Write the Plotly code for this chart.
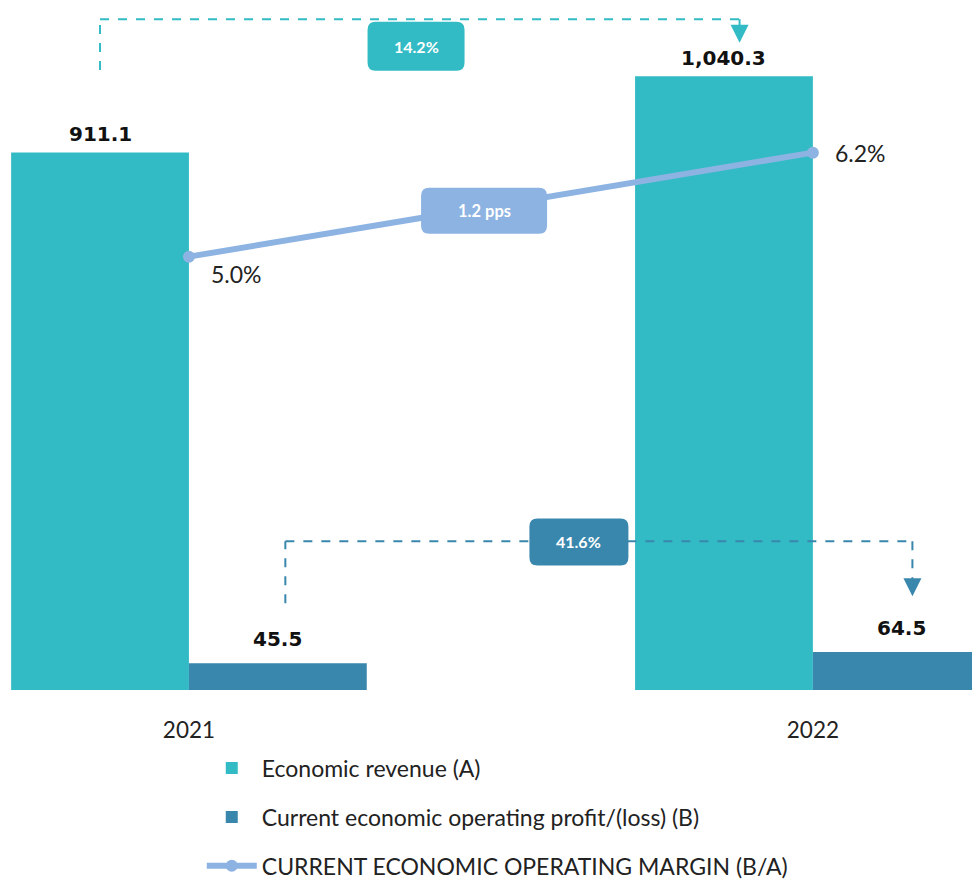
import plotly.graph_objects as go

# Data
years = ["2021", "2022"]
revenue = [911.1, 1040.3]
profit = [45.5, 64.5]
margin = [5.0, 6.2]
revenue_growth = "14.2%"
profit_growth = "41.6%"
margin_change = "1.2 pps"

teal = "#33BBC5"
blue = "#3A87AD"
light = "#8DB3E2"
font = "Lato"
value_font = "DejaVu Sans"

fig = go.Figure()
fig.add_trace(go.Bar(x=years, y=revenue, name="Economic revenue (A)",
                     marker=dict(color=teal, line=dict(width=0)),
                     legendgroup="a"))
fig.add_trace(go.Bar(x=years, y=profit, name="Current economic operating profit/(loss) (B)",
                     marker=dict(color=blue, line=dict(width=0)),
                     legendgroup="b"))
fig.add_trace(go.Scatter(x=years, y=margin, yaxis="y2", mode="lines+markers",
                         name="CURRENT ECONOMIC OPERATING MARGIN (B/A)",
                         line=dict(color=light, width=6),
                         marker=dict(size=12, color=light),
                         legendgroup="c"))

# bar value labels
off = 0.1425  # half of a bar, in category units
for i, v in enumerate(revenue):
    fig.add_annotation(x=i - off, y=v, text=f"<b>{v:,.1f}</b>", showarrow=False,
                       yanchor="bottom", yshift=4,
                       font=dict(family=value_font, size=20, color="#111"))
for i, v in enumerate(profit):
    fig.add_annotation(x=i + off, y=v, text=f"<b>{v:,.1f}</b>", showarrow=False,
                       yanchor="bottom", yshift=10,
                       font=dict(family=value_font, size=20, color="#111"))

# margin labels
fig.add_annotation(x=0, y=margin[0], yref="y2", text=f"{margin[0]:.1f}%", showarrow=False,
                   xanchor="left", yanchor="top", xshift=20, yshift=-1,
                   font=dict(size=23, color="#222"))
fig.add_annotation(x=1, y=margin[1], yref="y2", text=f"{margin[1]:.1f}%", showarrow=False,
                   xanchor="left", xshift=20, font=dict(size=23, color="#222"))


def rounded_box(xc, yc, w, h, color, yref="y", r=8):
    hw, hh = w / 2, h / 2
    path = (f"M {-hw + r},{-hh} L {hw - r},{-hh} Q {hw},{-hh} {hw},{-hh + r} "
            f"L {hw},{hh - r} Q {hw},{hh} {hw - r},{hh} L {-hw + r},{hh} "
            f"Q {-hw},{hh} {-hw},{hh - r} L {-hw},{-hh + r} Q {-hw},{-hh} {-hw + r},{-hh} Z")
    fig.add_shape(type="path", path=path, xref="x", yref=yref,
                  xsizemode="pixel", ysizemode="pixel", xanchor=xc, yanchor=yc,
                  fillcolor=color, line=dict(width=0), layer="above")


def bracket(x0, x1, ytop, yleft, ytip, color):
    dash = dict(color=color, width=2, dash="dash")
    fig.add_shape(type="line", x0=x0, x1=x0, y0=yleft, y1=ytop, xref="x", yref="y", line=dash)
    fig.add_shape(type="line", x0=x0, x1=x1, y0=ytop, y1=ytop, xref="x", yref="y", line=dash)
    fig.add_shape(type="line", x0=x1, x1=x1, y0=ytop, y1=ytip + 24, xref="x", yref="y", line=dash)
    fig.add_annotation(x=x1, y=ytip, ax=x1, ay=ytip + 26, axref="x", ayref="y",
                       text="", showarrow=True, arrowhead=2, arrowsize=1.8,
                       arrowwidth=2, arrowcolor=color)


# revenue growth bracket
bracket(-off, 1 - off + 0.025, 1137, 1051, 1097, teal)
rounded_box(0.364, 1091, 97, 49, teal)
fig.add_annotation(x=0.364, y=1091, text=f"<b>{revenue_growth}</b>", showarrow=False,
                   font=dict(size=16, color="white"))

# profit growth bracket
bracket(off + 0.012, 1 + off + 0.017, 252, 147, 159, blue)
rounded_box(0.625, 251, 99, 47, blue)
fig.add_annotation(x=0.625, y=251, text=f"<b>{profit_growth}</b>", showarrow=False,
                   font=dict(size=16, color="white"))

# margin change box
rounded_box(0.473, 5.53, 126, 46, light, yref="y2")
fig.add_annotation(x=0.473, y=5.53, yref="y2", text=f"<b>{margin_change}</b>", showarrow=False,
                   font=dict(size=16.5, color="white"))

# page body keeps its default 8px margin, so the figure is 16px smaller than the window
fig.update_layout(
    width=964, height=872,
    margin=dict(l=0, r=0, t=0, b=190, autoexpand=False),
    plot_bgcolor="white", paper_bgcolor="white",
    font=dict(family=font, size=22, color="#222"),
    barmode="group", bargap=0.43, bargroupgap=0,
    xaxis=dict(type="category", range=[-0.290, 1.255], showgrid=False, zeroline=False,
               showline=False, ticks="", ticklabelstandoff=24,
               tickfont=dict(size=22.5, color="#222")),
    yaxis=dict(range=[0, 1155.9], visible=False),
    yaxis2=dict(range=[0, 7.869], overlaying="y", visible=False),
    showlegend=True,
    legend=dict(x=0.201, y=-0.083, xanchor="left", yanchor="top",
                traceorder="grouped", tracegroupgap=16, itemwidth=50,
                font=dict(size=23, color="#222"), bgcolor="rgba(0,0,0,0)"),
)

fig.write_html("out.html")
